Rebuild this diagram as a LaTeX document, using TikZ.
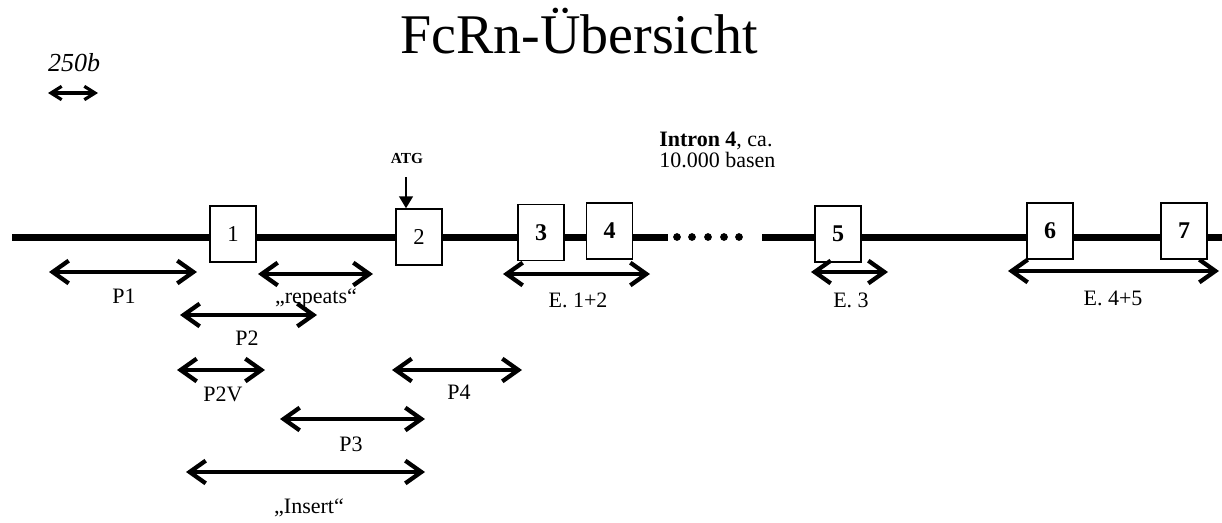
\documentclass[tikz,border=0pt]{standalone}
\usepackage{fontspec}
\setmainfont{Liberation Serif}
\usetikzlibrary{arrows.meta}
\begin{document}
\begin{tikzpicture}[x=0.75pt,y=-0.75pt,
  dbl/.style={{Straight Barb[length=12pt,width=17pt]}-{Straight Barb[length=12pt,width=17pt]}, line width=3.2pt},
  scalebar/.style={{Straight Barb[length=8pt,width=10pt]}-{Straight Barb[length=8pt,width=10pt]}, line width=2.4pt},
  chrom/.style={line width=5.25pt},
  exon/.style={draw, line width=1.1pt, fill=white, minimum width=34.5pt, minimum height=42pt, inner sep=0pt},
  exreg/.style={exon, font=\fontsize{17}{20}\selectfont},
  exbold/.style={exon, font=\fontsize{18}{20}\selectfont\bfseries},
  lbl/.style={font=\fontsize{16.5}{19}\selectfont, inner sep=0pt, anchor=base},
  dot/.style={circle, fill=black, inner sep=0pt, minimum size=5.8pt}]
\useasboundingbox (0,0) rectangle (1222,522);

% title and scale
\node[font=\fontsize{42}{46}\selectfont, inner sep=0pt, anchor=base] (title) at (579,53) {FcRn-Übersicht};
\node[font=\fontsize{19.5}{22}\selectfont\itshape, inner sep=0pt, anchor=base] (scale) at (74,71) {250b};
\coordinate (sa) at (48,93); \coordinate (sb) at (98,93);
\draw[scalebar] (sa) -- (sb);

% chromosome line
\coordinate (L0) at (12,237); \coordinate (L1) at (668,237);
\coordinate (R0) at (762,237); \coordinate (R1) at (1222,237);
\draw[chrom] (L0) -- (L1);
\draw[chrom] (R0) -- (R1);
\node[dot] (d1) at (677,237) {};
\node[dot] (d2) at (692,237) {};
\node[dot] (d3) at (708,237) {};
\node[dot] (d4) at (724,237) {};
\node[dot] (d5) at (739,237) {};

% exons
\node[exreg] (e1) at (233,234) {1};
\node[exreg] (e2) at (419,237) {2};
\node[exbold] (e3) at (541,232.5) {3};
\node[exbold] (e4) at (609.5,231) {4};
\node[exbold] (e5) at (838,234) {5};
\node[exbold] (e6) at (1050,231) {6};
\node[exbold] (e7) at (1184,231) {7};

% ATG
\node[font=\fontsize{11.5}{13}\selectfont\bfseries, inner sep=0pt, anchor=base] (atg) at (407,163) {ATG};
\coordinate (atgtop) at (406,177);
\draw[line width=1.1pt, -{Triangle[length=9pt,width=10.5pt]}] (atgtop) -- (e2.north -| atgtop);

% intron note
\node[font=\fontsize{16.5}{15.5}\selectfont, inner sep=0pt, anchor=base west, align=left] (intron) at (659,167) {\textbf{Intron 4}, ca.\\10.000 basen};

% arrows
\coordinate (p1a) at (49,272); \coordinate (p1b) at (197,272);
\draw[dbl] (p1a) -- (p1b);
\node[lbl] (p1l) at (124,303) {P1};

\coordinate (rpa) at (258,274); \coordinate (rpb) at (373,274);
\draw[dbl] (rpa) -- (rpb);
\node[lbl] (rpl) at (316,303) {„repeats“};

\coordinate (e12a) at (503,274); \coordinate (e12b) at (650,274);
\draw[dbl] (e12a) -- (e12b);
\node[lbl] (e12l) at (578,307) {E. 1+2};

\coordinate (e3a) at (811,272); \coordinate (e3b) at (888,272);
\draw[dbl] (e3a) -- (e3b);
\node[lbl] (e3l) at (851,307) {E. 3};

\coordinate (e45a) at (1008,271); \coordinate (e45b) at (1219,271);
\draw[dbl] (e45a) -- (e45b);
\node[lbl] (e45l) at (1113,305) {E. 4+5};

\coordinate (p2a) at (180,315); \coordinate (p2b) at (317,315);
\draw[dbl] (p2a) -- (p2b);
\node[lbl] (p2l) at (247,345) {P2};

\coordinate (p2va) at (177,370); \coordinate (p2vb) at (265,370);
\draw[dbl] (p2va) -- (p2vb);
\node[lbl] (p2vl) at (223,401) {P2V};

\coordinate (p4a) at (392,370); \coordinate (p4b) at (522,370);
\draw[dbl] (p4a) -- (p4b);
\node[lbl] (p4l) at (459,399) {P4};

\coordinate (p3a) at (280,419); \coordinate (p3b) at (425,419);
\draw[dbl] (p3a) -- (p3b);
\node[lbl] (p3l) at (351,451) {P3};

\coordinate (ina) at (186,472); \coordinate (inb) at (425,472);
\draw[dbl] (ina) -- (inb);
\node[lbl] (inl) at (309,513) {„Insert“};
\end{tikzpicture}
\end{document}
